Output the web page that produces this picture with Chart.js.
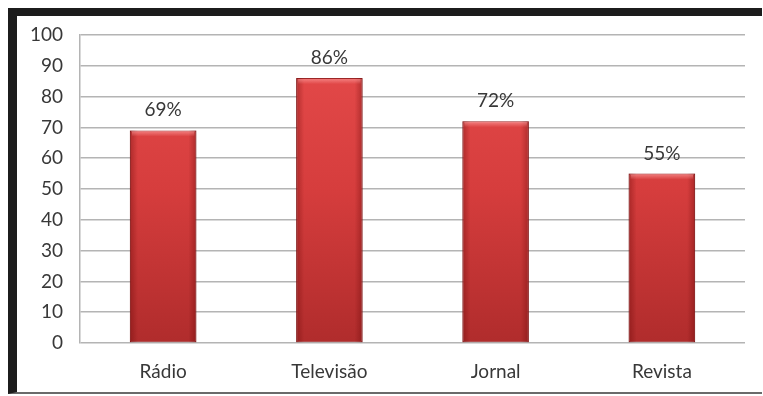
<!DOCTYPE html>
<html>
<head>
<meta charset="utf-8">
<script src="https://cdn.jsdelivr.net/npm/chart.js@4.4.1/dist/chart.umd.min.js"></script>
<style>
    html, body { margin: 0; padding: 0; background: #fff; }
    #frame {
        position: absolute;
        left: 8px;
        top: 8px;
        width: 745px;
        height: 376px;
        border-top: 8px solid #1c1c1c;
        border-left: 9px solid #1c1c1c;
        border-bottom: 2px solid #6a6a6a;
        background: #fff;
    }
    #chartWrap { position: relative; width: 745px; height: 376px; }
</style>
</head>
<body>
<div id="frame">
    <div id="chartWrap"><canvas id="midiaChart"></canvas></div>
</div>
<script>
const categories = ["Rádio", "Televisão", "Jornal", "Revista"];
const values = [69, 86, 72, 55];
const valueLabels = ["69%", "86%", "72%", "55%"];
const yTicks = [0, 10, 20, 30, 40, 50, 60, 70, 80, 90, 100];

const FONT = "Lato, 'Open Sans', sans-serif";

/* Red bar fill: light at top, darker toward the base */
function barFill(context) {
    const chart = context.chart;
    const area = chart.chartArea;
    if (!area) {
        return "#d43c3c";
    }
    const g = chart.ctx.createLinearGradient(0, area.top, 0, area.bottom);
    g.addColorStop(0, "#e64c4c");
    g.addColorStop(0.5, "#d63d3d");
    g.addColorStop(1, "#b02c2c");
    return g;
}

/* Side shading and top bevel on each bar, plus value labels above */
const barDecor = {
    id: "barDecor",
    afterDatasetsDraw(chart) {
        const ctx = chart.ctx;
        const meta = chart.getDatasetMeta(0);
        meta.data.forEach((bar, i) => {
            const left = bar.x - bar.width / 2;
            const right = bar.x + bar.width / 2;
            const top = bar.y;
            const bottom = bar.base;
            ctx.save();
            // darker vertical edges
            const h = ctx.createLinearGradient(left, 0, right, 0);
            h.addColorStop(0, "rgba(90,0,0,0.35)");
            h.addColorStop(0.12, "rgba(90,0,0,0)");
            h.addColorStop(0.88, "rgba(90,0,0,0)");
            h.addColorStop(1, "rgba(90,0,0,0.35)");
            ctx.fillStyle = h;
            ctx.fillRect(left, top, right - left, bottom - top);
            // light bevel along the top
            const b = ctx.createLinearGradient(0, top, 0, top + 6);
            b.addColorStop(0, "rgba(255,160,160,0.7)");
            b.addColorStop(1, "rgba(255,160,160,0)");
            ctx.fillStyle = b;
            ctx.fillRect(left + 2, top + 1, right - left - 4, 6);
            ctx.restore();

            ctx.save();
            ctx.font = "19px " + FONT;
            ctx.fillStyle = "#383838";
            ctx.textAlign = "center";
            ctx.textBaseline = "alphabetic";
            ctx.fillText(valueLabels[i], bar.x, top - 14);
            ctx.restore();
        });
    }
};

const config = {
    type: "bar",
    data: {
        labels: categories,
        datasets: [
            {
                data: values,
                backgroundColor: barFill,
                borderColor: "#9c2626",
                borderWidth: 1,
                borderSkipped: false,
                categoryPercentage: 1,
                barPercentage: 0.4
            }
        ]
    },
    options: {
        responsive: true,
        maintainAspectRatio: false,
        animation: false,
        layout: {
            padding: { top: 19, right: 17, left: 0, bottom: 0 }
        },
        plugins: {
            legend: { display: false },
            tooltip: { enabled: false }
        },
        scales: {
            x: {
                grid: { display: false, drawTicks: false },
                border: { display: false },
                ticks: {
                    color: "#383838",
                    font: { family: FONT, size: 19 },
                    padding: 17
                },
                afterFit(scale) {
                    scale.height = 49;
                }
            },
            y: {
                min: 0,
                max: 100,
                afterBuildTicks(scale) {
                    scale.ticks = yTicks.map(v => ({ value: v }));
                },
                grid: {
                    color: "#b4b4b4",
                    lineWidth: 1.5,
                    drawTicks: false
                },
                border: { display: true, color: "#b4b4b4", width: 1.5 },
                ticks: {
                    color: "#383838",
                    font: { family: FONT, size: 19 },
                    padding: 17
                },
                afterFit(scale) {
                    scale.width = 63;
                    // tick padding would otherwise push the plot top down
                    scale.paddingTop = 0;
                    scale.paddingBottom = 0;
                }
            }
        }
    },
    plugins: [barDecor]
};

let midiaChart;

/* Chart instance */
midiaChart = new Chart(document.getElementById("midiaChart"), config);
</script>
</body>
</html>
